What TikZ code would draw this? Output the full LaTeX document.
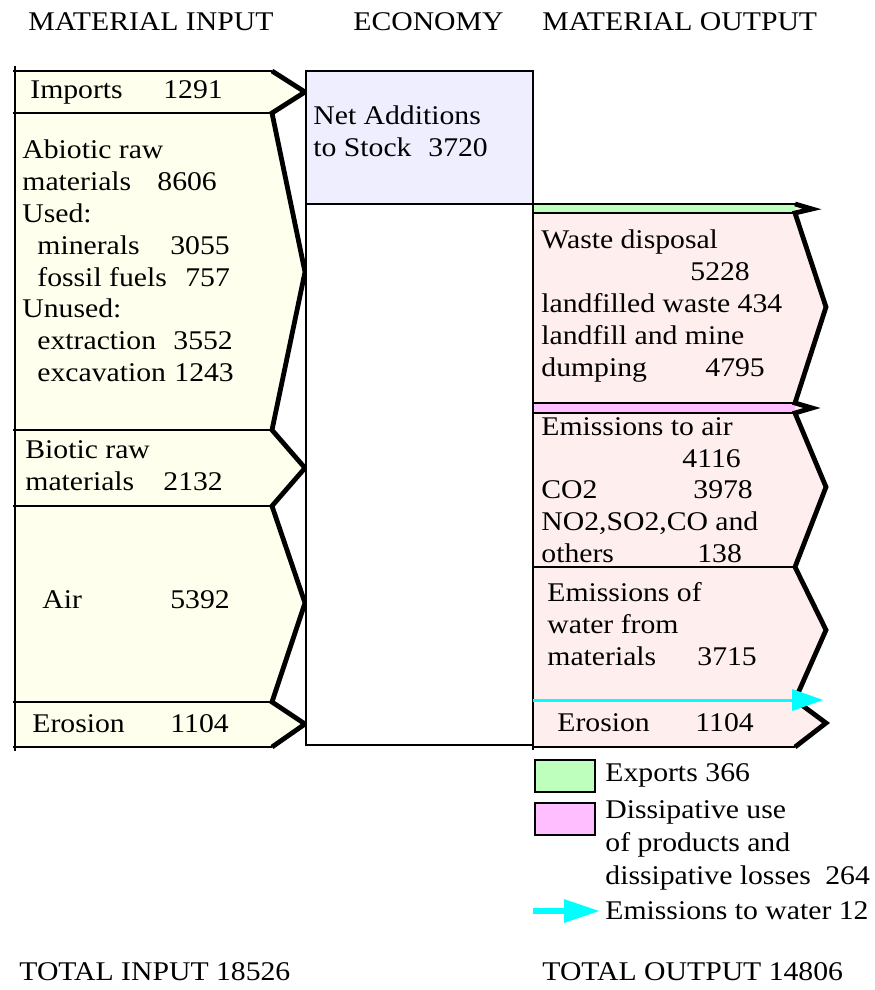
\documentclass[tikz,border=0pt]{standalone}
\usepackage{fontspec}
\setmainfont{Liberation Serif}[FakeStretch=1.1]
\usepackage{xcolor}
\usetikzlibrary{arrows.meta}
\definecolor{infill}{RGB}{255,255,238}
\definecolor{ecofill}{RGB}{238,238,255}
\definecolor{outfill}{RGB}{255,238,238}
\definecolor{expfill}{RGB}{190,255,190}
\definecolor{dissfill}{RGB}{255,190,255}
\definecolor{watercol}{RGB}{0,255,255}
\newlength{\pxu}\setlength{\pxu}{0.5pt}
\newcommand{\padto}[2]{\makebox[#1\pxu][l]{#2}}
\tikzset{txt/.style={anchor=west,inner sep=0pt,align=left,font=\fontsize{13.5}{15.9}\selectfont},
  keytxt/.style={txt,font=\fontsize{13.5}{16.5}\selectfont},
  hline/.style={line width=0.8pt},
  zigzag/.style={line width=2.4pt},
  swatch/.style={draw,line width=0.8pt,minimum width=30pt,minimum height=16pt,inner sep=0pt}}

\begin{document}
\begin{tikzpicture}[x=0.5pt,y=-0.5pt]
    \useasboundingbox (0,0) rectangle (874,990);

    % column heads
    \node[txt] (hin) at (28,22) {MATERIAL INPUT};
    \node[txt] (heco) at (353,22) {ECONOMY};
    \node[txt] (hout) at (542,22) {MATERIAL OUTPUT};

    % input side
    \fill[infill] (15,71) -- (272,71) -- (305,92) -- (272,113) -- (305,272) -- (272,430) -- (305,468)
        -- (272,506) -- (305,603) -- (272,702) -- (305,724) -- (272,747) -- (15,747) -- cycle;
    \draw[hline] (13,71) -- (272,71) (13,113) -- (272,113) (13,430) -- (272,430)
        (13,506) -- (272,506) (13,702) -- (272,702) (13,747) -- (272,747);
    \draw[hline] (15,66) -- (15,751);
    \draw[zigzag] (272,71) -- (305,92) -- (272,113) -- (305,272) -- (272,430) -- (305,468)
        -- (272,506) -- (305,603) -- (272,702) -- (305,724) -- (272,747);

    % economy
    \draw[hline,fill=ecofill] (306,71) rectangle (533,204);
    \draw[hline,fill=white] (306,204) rectangle (533,745);

    % output side
    \fill[outfill] (533,204) -- (795,204) -- (812,209) -- (795,213) -- (826,307) -- (795,403) -- (812,408)
        -- (795,413) -- (826,487) -- (795,567) -- (826,630) -- (795,700) -- (826,723) -- (795,747) -- (533,747) -- cycle;
    \fill[expfill] (533,204) rectangle (795,213);
    \fill[dissfill] (533,403) rectangle (795,413);
    \draw[hline] (533,204) -- (795,204) (533,213) -- (795,213) (533,403) -- (795,403)
        (533,413) -- (795,413) (533,567) -- (795,567) (533,747) -- (795,747);
    \draw[hline] (533,204) -- (533,750);
    \draw[watercol,line width=1.5pt] (533,700) -- (795,700);
    \draw[zigzag] (795,204) -- (812,209) -- (795,213) -- (826,307) -- (795,403) -- (812,408) -- (795,413)
        -- (826,487) -- (795,567) -- (826,630) -- (795,700) -- (826,723) -- (795,747);
    \fill[watercol] (792,689) -- (823,700) -- (792,711) -- cycle;

    % input labels
    \node[txt] (imports) at (30,92) {\padto{133}{Imports}1291};
    \node[txt] (abiotic) at (22,261) {Abiotic raw\\ \padto{135}{materials}8606\\ Used:\\
        \hspace*{15\pxu}\padto{133}{minerals}3055\\ \hspace*{15\pxu}\padto{148}{fossil fuels}757\\ Unused:\\
        \hspace*{15\pxu}\padto{136}{extraction}3552\\ \hspace*{15\pxu}\padto{137}{excavation}1243};
    \node[txt] (biotic) at (25,466) {Biotic raw\\ \padto{138}{materials}2132};
    \node[txt] (air) at (42,600) {\padto{128}{Air}5392};
    \node[txt] (erosionin) at (32,724) {\padto{138}{Erosion}1104};

    \node[txt] (netadd) at (313,131) {Net Additions\\ \padto{115}{to Stock}3720};

    % output labels
    \node[txt] (waste) at (541,306) {Waste disposal\\ \hspace*{149\pxu}5228\\ landfilled waste 434\\
        landfill and mine\\ \padto{164}{dumping}4795};
    \node[txt] (emair) at (541,490) {Emissions to air\\ \hspace*{141\pxu}4116\\ \padto{152}{CO2}3978\\
        NO2,SO2,CO and\\ \padto{156}{others}138};
    \node[txt] (emwater) at (547,624) {Emissions of\\ water from\\ \padto{150}{materials}3715};
    \node[txt] (erosionout) at (557,723) {\padto{138}{Erosion}1104};

    % key
    \node[swatch,fill=expfill] (expsw) at (565,776) {};
    \node[swatch,fill=dissfill] (disssw) at (565,819) {};
    \node[keytxt] (exportkey) at (605,775) {\padto{100}{Exports}366};
    \node[keytxt] (disskey) at (605,845) {Dissipative use\\ of products and\\ \padto{220}{dissipative losses}264};
    \node[keytxt] (waterkey) at (605,911) {Emissions to water 12};
    \coordinate (wsrc) at (533,911);
    \draw[watercol,line width=3pt,-{Triangle[length=18pt,width=11pt]},shorten >=2.5pt] (wsrc) -- (waterkey.west);

    % totals
    \node[txt] (totin) at (19,972) {TOTAL INPUT 18526};
    \node[txt] (totout) at (542,972) {TOTAL OUTPUT 14806};
\end{tikzpicture}
\end{document}
